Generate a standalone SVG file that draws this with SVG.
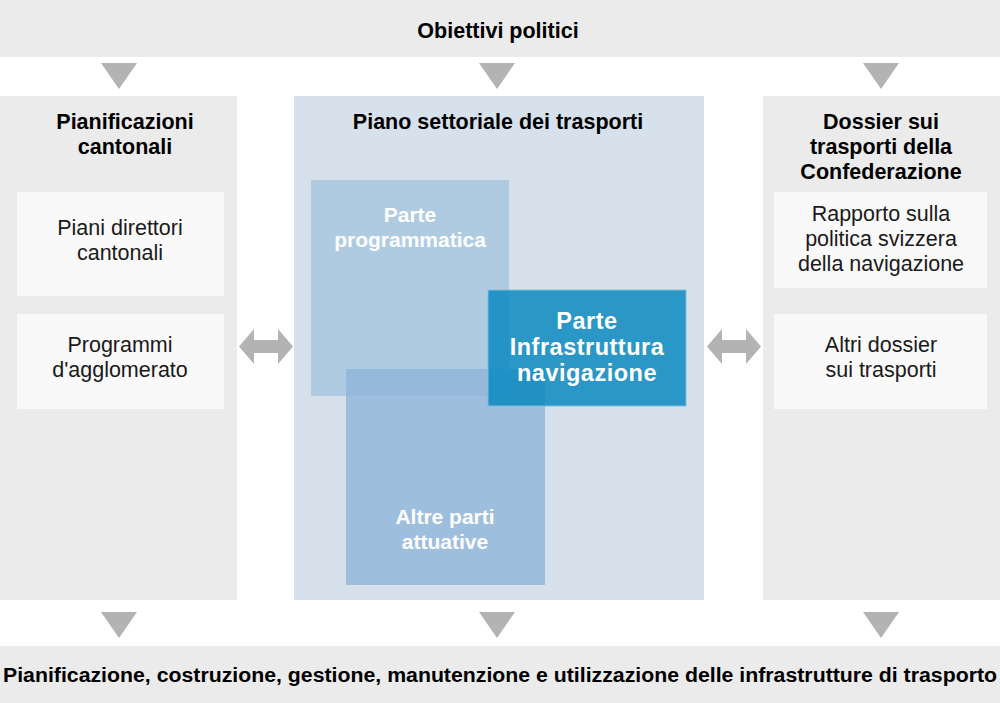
<svg xmlns="http://www.w3.org/2000/svg" width="1000" height="703" viewBox="0 0 1000 703">
<defs>
<style>
.bar{fill:#ebebeb}
.panel{fill:#ebebeb}
.inner{fill:#f9f9f9}
.arr{fill:#b3b3b3}
text{font-family:"Liberation Sans",Arial,sans-serif;text-anchor:middle}
.t{font-size:21.5px;font-weight:bold;fill:#000}
.n{font-size:21.5px;fill:#1a1a1a}
.w{font-size:21px;font-weight:bold;fill:#fff}
.wb{font-size:23.5px;font-weight:bold;fill:#fff;letter-spacing:0.5px}
.b{font-size:20px;font-weight:bold;fill:#000}
</style>
<polygon id="down" points="-18,0 18,0 0,26"/>
<polygon id="dbl" points="0,17.5 15,0 15,11 39,11 39,0 54,17.5 39,35 39,24 15,24 15,35"/>
</defs>
<rect width="1000" height="703" fill="#fff"/>
<g id="top">
<rect class="bar" x="0" y="0" width="1000" height="57"/>
<text class="t" x="498" y="38">Obiettivi politici</text>
</g>
<g id="bottom">
<rect class="bar" x="0" y="646" width="1000" height="57"/>
<text class="b" x="500" y="682" textLength="994" lengthAdjust="spacingAndGlyphs">Pianificazione, costruzione, gestione, manutenzione e utilizzazione delle infrastrutture di trasporto</text>
</g>
<g id="left">
<rect class="panel" x="0" y="96" width="237" height="504"/>
<text class="t" x="125" y="129">Pianificazioni</text>
<text class="t" x="125" y="154">cantonali</text>
<g id="piani">
<rect class="inner" x="17" y="192" width="207" height="104"/>
<text class="n" x="120" y="235">Piani direttori</text>
<text class="n" x="120" y="260">cantonali</text>
</g>
<g id="programmi">
<rect class="inner" x="17" y="314" width="207" height="95"/>
<text class="n" x="120" y="352">Programmi</text>
<text class="n" x="120" y="377">d'agglomerato</text>
</g>
</g>
<g id="middle">
<rect x="294" y="96" width="410" height="504" fill="#d7e1eb"/>
<text class="t" x="498" y="129">Piano settoriale dei trasporti</text>
<g id="programmatica">
<rect x="311" y="180" width="198" height="216" fill="#afcbe2"/>
<text class="w" x="410" y="222">Parte</text>
<text class="w" x="410" y="247">programmatica</text>
</g>
<g id="altre">
<rect x="346" y="369" width="199" height="216" fill="rgb(140,180,217)" fill-opacity="0.775"/>
<text class="w" x="445" y="524">Altre parti</text>
<text class="w" x="445" y="549">attuative</text>
</g>
<g id="infra">
<rect x="488" y="290" width="198" height="116" fill="rgb(12,137,192)" fill-opacity="0.85" stroke="#7fbfdc" stroke-width="1"/>
<text class="wb" x="587" y="329">Parte</text>
<text class="wb" x="587" y="355">Infrastruttura</text>
<text class="wb" x="587" y="381">navigazione</text>
</g>
</g>
<g id="right">
<rect class="panel" x="763" y="96" width="237" height="504"/>
<text class="t" x="881" y="129">Dossier sui</text>
<text class="t" x="881" y="154">trasporti della</text>
<text class="t" x="881" y="179">Confederazione</text>
<g id="rapporto">
<rect class="inner" x="774" y="192" width="213" height="96"/>
<text class="n" x="881" y="221">Rapporto sulla</text>
<text class="n" x="881" y="246">politica svizzera</text>
<text class="n" x="881" y="271">della navigazione</text>
</g>
<g id="altri">
<rect class="inner" x="774" y="314" width="213" height="95"/>
<text class="n" x="881" y="352">Altri dossier</text>
<text class="n" x="881" y="377">sui trasporti</text>
</g>
</g>
<g id="connectors" class="arr">
<use href="#down" x="119" y="63"/>
<use href="#down" x="497" y="63"/>
<use href="#down" x="881" y="63"/>
<use href="#down" x="119" y="612"/>
<use href="#down" x="497" y="612"/>
<use href="#down" x="881" y="612"/>
<use href="#dbl" x="239" y="329"/>
<use href="#dbl" x="707" y="329"/>
</g>
</svg>
